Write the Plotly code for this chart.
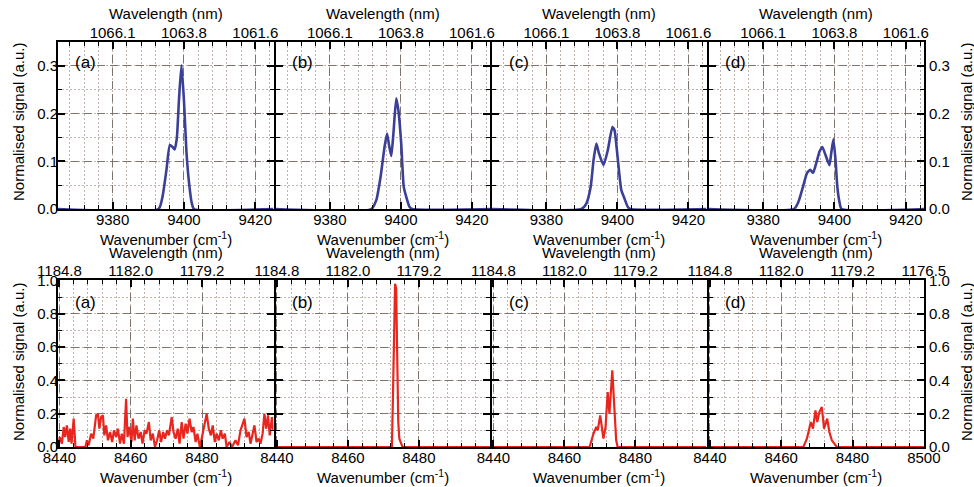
import plotly.graph_objects as go

# ---------------- data ----------------
# top row: wavenumber (cm-1) vs normalised signal, blue
top_a_x = [9364.7, 9392.9, 9394.0, 9395.1, 9396.05, 9396.8, 9397.4, 9398.0, 9398.6, 9399.3, 9400.0, 9400.7, 9401.4, 9402.2, 9402.8, 9425.1]
top_a_y = [0, 0, 0.026, 0.082, 0.134, 0.130, 0.125, 0.148, 0.228, 0.301, 0.228, 0.120, 0.057, 0.012, 0, 0]

top_b_x = [9364.7, 9391.7, 9393.1, 9394.3, 9395.4, 9396.1, 9396.6, 9397.3, 9397.9, 9398.7, 9399.3, 9400.1, 9400.8, 9401.5, 9402.4, 9403.2, 9425.1]
top_b_y = [0, 0, 0.019, 0.068, 0.130, 0.158, 0.137, 0.111, 0.158, 0.232, 0.207, 0.137, 0.047, 0.026, 0.005, 0, 0]

top_c_x = [9364.7, 9389.9, 9391.3, 9392.5, 9393.3, 9394.1, 9394.8, 9396.1, 9397.3, 9398.6, 9399.2, 9400.1, 9401.1, 9402.0, 9402.9, 9403.6, 9425.1]
top_c_y = [0, 0, 0.012, 0.047, 0.103, 0.137, 0.117, 0.092, 0.123, 0.172, 0.165, 0.106, 0.040, 0.022, 0.005, 0, 0]

top_d_x = [9364.7, 9388.7, 9389.9, 9391.2, 9392.3, 9393.2, 9394.0, 9394.9, 9395.8, 9396.6, 9397.5, 9398.6, 9399.1, 9399.7, 9400.3, 9400.8, 9401.4, 9402.0, 9425.1]
top_d_y = [0, 0, 0.015, 0.047, 0.075, 0.082, 0.076, 0.096, 0.120, 0.130, 0.113, 0.092, 0.117, 0.146, 0.103, 0.047, 0.015, 0, 0]

# bottom row: wavenumber (cm-1) vs normalised signal, red
bot_a_x = [8439.6, 8440.1, 8440.7, 8441.2, 8441.6, 8442.1, 8442.6, 8443.0, 8443.4, 8444.0, 8444.5, 8447.3,
           8447.7, 8448.2, 8448.9, 8449.5, 8450.3, 8450.8, 8451.2, 8451.7, 8452.2, 8452.6, 8453.1, 8453.6,
           8454.2, 8454.8, 8455.3, 8455.9, 8456.4, 8457.0, 8457.5, 8458.1, 8458.7, 8459.1, 8459.6, 8460.2,
           8460.6, 8461.1, 8461.6, 8462.2, 8462.8, 8463.3, 8463.9, 8464.4, 8465.1, 8465.6, 8466.2, 8466.8,
           8467.4, 8468.0, 8468.5, 8469.1, 8469.6, 8470.2, 8470.7, 8471.5, 8472.0, 8472.6, 8473.2, 8473.7,
           8474.3, 8474.8, 8475.4, 8475.9, 8476.5, 8477.1, 8477.6, 8478.2, 8478.7, 8479.4, 8480.0, 8480.8,
           8481.3, 8481.9, 8482.5, 8483.0, 8483.6, 8484.1, 8484.7, 8485.3, 8485.8, 8486.4, 8486.9, 8487.7,
           8488.4, 8489.4, 8490.1, 8490.8, 8491.4, 8491.9, 8492.5, 8493.1, 8493.6, 8494.2, 8494.7, 8495.3,
           8495.9, 8496.4, 8497.0, 8497.5, 8498.0, 8498.5, 8499.0, 8499.6, 8500.0]
bot_a_y = [0.0, 0.06, 0.02, 0.12, 0.06, 0.13, 0.03, 0.11, 0.02, 0.17, 0.0, 0.0,
           0.04, 0.01, 0.08, 0.05, 0.19, 0.20, 0.11, 0.18, 0.19, 0.07, 0.13, 0.04,
           0.09, 0.03, 0.10, 0.06, 0.11, 0.02, 0.08, 0.02, 0.29, 0.06, 0.12, 0.03,
           0.17, 0.04, 0.13, 0.05, 0.09, 0.02, 0.10, 0.08, 0.15, 0.04, 0.08, 0.0,
           0.04, 0.10, 0.03, 0.09, 0.05, 0.10, 0.07, 0.18, 0.09, 0.05, 0.11, 0.02,
           0.15, 0.05, 0.14, 0.08, 0.17, 0.09, 0.12, 0.03, 0.08, 0.0, 0.06, 0.16,
           0.20, 0.11, 0.07, 0.13, 0.03, 0.08, 0.04, 0.10, 0.05, 0.08, 0.0, 0.03,
           0.0, 0.04, 0.01, 0.10, 0.14, 0.17, 0.06, 0.09, 0.02, 0.08, 0.13, 0.03,
           0.05, 0.02, 0.08, 0.20, 0.11, 0.19, 0.07, 0.18, 0.10]

bot_b_x = [8439.6, 8472.4, 8472.7, 8473.0, 8473.3, 8473.6, 8473.9, 8474.2, 8474.5, 8475.0, 8475.4, 8500.0]
bot_b_y = [0, 0, 0.30, 0.80, 0.98, 0.95, 0.60, 0.15, 0.05, 0.02, 0, 0]

bot_c_x = [8439.6, 8467.1, 8468.2, 8469.0, 8469.4, 8470.1, 8471.0, 8471.6, 8472.2, 8472.7, 8473.5, 8474.1, 8474.6, 8475.0, 8500.0]
bot_c_y = [0, 0, 0.08, 0.12, 0.10, 0.19, 0.05, 0.12, 0.33, 0.20, 0.46, 0.18, 0.04, 0, 0]

bot_d_x = [8439.6, 8466.2, 8467.2, 8468.3, 8468.9, 8469.6, 8470.1, 8470.7, 8471.4, 8472.0, 8472.9, 8473.5, 8474.2, 8475.1, 8475.6, 8500.0]
bot_d_y = [0, 0, 0.05, 0.15, 0.11, 0.22, 0.15, 0.21, 0.24, 0.11, 0.17, 0.09, 0.04, 0.01, 0, 0]

panel_labels = ["(a)", "(b)", "(c)", "(d)"]

top_ticks = [9380, 9400, 9420]
top_wl_text = ["1066.1", "1063.8", "1061.6"]
bot_ticks = [8440, 8460, 8480]
bot_wl_text = ["1184.8", "1182.0", "1179.2"]
bot_ticks_last = [8440, 8460, 8480, 8500]
bot_wl_text_last = ["1184.8", "1182.0", "1179.2", "1176.5"]

top_yticks = [0.0, 0.1, 0.2, 0.3]
bot_yticks = [0.0, 0.2, 0.4, 0.6, 0.8, 1.0]

# ---------------- styling ----------------
W, H = 974, 487
ML, MR, MT, MB = 58, 50, 42, 40
PW = W - ML - MR
PH = H - MT - MB
FONT = "Liberation Sans, Arial, sans-serif"
FS = 15
BLUE = "#3c3f96"
RED = "#e8261f"
MAJ_GRID = "#7d736f"
MIN_GRID = "#c0b3ac"

def px(xp):
    return (xp - ML) / PW

def py(yp):
    return (H - MB - yp) / PH

top_dom = [py(209), 1.0]
bot_dom = [0.0, py(280)]
TOP_RANGE = [9364.7, 9425.1]
BOT_RANGE = [8439.6, 8500.05]
GAP = 1.0 / PW

fig = go.Figure()

top_data = [(top_a_x, top_a_y), (top_b_x, top_b_y), (top_c_x, top_c_y), (top_d_x, top_d_y)]
bot_data = [(bot_a_x, bot_a_y), (bot_b_x, bot_b_y), (bot_c_x, bot_c_y), (bot_d_x, bot_d_y)]

layout = {}
for row in range(2):
    for k in range(4):
        i = row * 4 + k + 1
        j = i + 8
        dom_x = [k / 4 + (GAP if k > 0 else 0), (k + 1) / 4 - (GAP if k < 3 else 0)]
        if row == 0:
            xs, ys = top_data[k]
            color, lw, shape = BLUE, 2.6, "spline"
            rng, yrng = TOP_RANGE, [0, 0.35]
            tv, wtv, wtt = top_ticks, top_ticks, top_wl_text
            ytv, ymin = top_yticks, 0.05
            ydom = top_dom
            minor0 = 9380
        else:
            xs, ys = bot_data[k]
            color, lw, shape = RED, 2.2, "linear"
            rng, yrng = BOT_RANGE, [0, 1.003]
            if k == 3:
                tv, wtv, wtt = bot_ticks_last, bot_ticks_last, bot_wl_text_last
            else:
                tv, wtv, wtt = bot_ticks, bot_ticks, bot_wl_text
            ytv, ymin = bot_yticks, 0.1
            ydom = bot_dom
            minor0 = 8440
        fig.add_trace(go.Scatter(x=xs, y=ys, mode="lines",
                                 line=dict(color=color, width=lw, shape=shape, smoothing=0.5),
                                 xaxis=f"x{i}", yaxis=f"y{i}", showlegend=False, hoverinfo="skip"))
        fig.add_trace(go.Scatter(x=[], y=[], mode="lines", xaxis=f"x{j}", yaxis=f"y{i}",
                                 showlegend=False, hoverinfo="skip"))
        layout[f"xaxis{i}"] = dict(
            domain=dom_x, anchor=f"y{i}", range=rng, tickmode="array", tickvals=tv,
            showgrid=True, gridcolor=MAJ_GRID, griddash="8px,5px", gridwidth=1.2,
            zeroline=False, showline=True, linecolor="black", linewidth=2, mirror=True,
            ticks="inside", ticklen=7, tickwidth=1.6, tickcolor="black",
            ticklabelstandoff=-4,
            tickfont=dict(family=FONT, size=FS, color="black"),
            minor=dict(tick0=minor0, dtick=4, ticks="inside", ticklen=4, tickwidth=1.3,
                       tickcolor="black", showgrid=True, gridcolor=MIN_GRID,
                       griddash="2px,2px", gridwidth=1),
        )
        layout[f"xaxis{j}"] = dict(
            overlaying=f"x{i}", anchor=f"y{i}", side="top", range=rng,
            tickmode="array", tickvals=wtv, ticktext=wtt, showgrid=False, zeroline=False,
            showline=False, ticks="inside", ticklen=7, tickwidth=1.6, tickcolor="black",
            tickfont=dict(family=FONT, size=FS, color="black"),
            minor=dict(tick0=minor0, dtick=4, ticks="inside", ticklen=4, tickwidth=1.3,
                       tickcolor="black", showgrid=False),
        )
        yax = dict(
            domain=ydom, anchor=f"x{i}", range=yrng, tickmode="array", tickvals=ytv,
            tickformat=".1f", showgrid=True, gridcolor=MAJ_GRID, griddash="8px,5px",
            gridwidth=1.2, zeroline=False, showline=True, linecolor="black", linewidth=2,
            mirror="ticks", ticks="inside", ticklen=7, tickwidth=1.6, tickcolor="black",
            tickfont=dict(family=FONT, size=FS, color="black"),
            minor=dict(dtick=ymin, tick0=0, ticks="inside", ticklen=4, tickwidth=1.3,
                       tickcolor="black", showgrid=True, gridcolor=MIN_GRID,
                       griddash="2px,2px", gridwidth=1),
        )
        if k in (1, 2):
            yax["showticklabels"] = False
        if k == 0:
            yax["ticklabelstandoff"] = -5
        if k == 3:
            yax["side"] = "right"
        layout[f"yaxis{i}"] = yax

ann = []
panel_left = [ML + k * PW / 4 for k in range(4)]
for k in range(4):
    cx = px(panel_left[k] + PW / 8)
    ann.append(dict(x=cx, y=py(13.5), text="Wavelength (nm)"))
    ann.append(dict(x=cx, y=py(238), text="Wavenumber (cm<sup>-1</sup>)"))
    ann.append(dict(x=cx, y=py(252), text="Wavelength (nm)"))
    ann.append(dict(x=cx, y=py(477), text="Wavenumber (cm<sup>-1</sup>)"))
    lx = px(panel_left[k] + 27.6)
    ann.append(dict(x=lx, y=py(63), text=panel_labels[k], font_size=17))
    ann.append(dict(x=lx, y=py(302), text=panel_labels[k], font_size=17))
for yc in (122, 362):
    ann.append(dict(x=px(18), y=py(yc), text="Normalised signal (a.u.)", textangle=-90))
    ann.append(dict(x=px(966), y=py(yc), text="Normalised signal (a.u.)", textangle=-90))
for a in ann:
    fsz = a.pop("font_size", FS)
    a.update(xref="paper", yref="paper", showarrow=False, xanchor="center", yanchor="middle",
             font=dict(family=FONT, size=fsz, color="black"))

fig.update_layout(
    width=W, height=H, margin=dict(l=ML, r=MR, t=MT, b=MB, autoexpand=False),
    paper_bgcolor="white", plot_bgcolor="white", showlegend=False,
    annotations=ann, **layout,
)

fig.write_html(
    "out.html",
    config={"displayModeBar": False},
    post_script="document.body.style.margin='0px';document.body.style.overflow='hidden';"
                "document.documentElement.style.overflow='hidden';",
)
